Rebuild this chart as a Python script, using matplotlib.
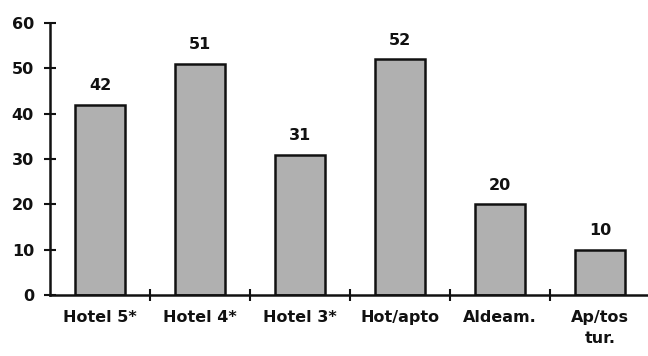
import matplotlib
matplotlib.use("Agg")
import matplotlib.pyplot as plt

categorias = ["Hotel 5*", "Hotel 4*", "Hotel 3*", "Hot/apto", "Aldeam.", "Ap/tos\ntur."]
valores = [42, 51, 31, 52, 20, 10]

plt.rcParams['font.family'] = ['DejaVu Sans']
plt.rcParams['font.weight'] = 'bold'

fig = plt.figure(figsize=(6.48, 3.56), dpi=100)
ax = fig.add_axes([0.0772, 0.171, 0.926, 0.764])

x = range(len(categorias))
ax.bar(x, valores, width=0.5, color='#b0b0b0', edgecolor='#111111', linewidth=1.8)

# rotulos de valor acima das barras
for i, v in zip(x, valores):
    ax.text(i, v + 2.6, str(v), ha='center', va='bottom', fontsize=11.5, fontweight='bold', color='#111111')

ax.set_xlim(-0.5, 5.5)
ax.set_ylim(0, 60)
ax.set_yticks(range(0, 61, 10))

ax.spines['top'].set_visible(False)
ax.spines['right'].set_visible(False)
ax.spines['left'].set_linewidth(1.8)
ax.spines['bottom'].set_linewidth(1.8)
ax.spines['left'].set_color('#111111')
ax.spines['bottom'].set_color('#111111')

# marcas do eixo x entre as categorias
ax.set_xticks([i + 0.5 for i in range(len(categorias) - 1)])
ax.set_xticklabels([])
ax.set_xticks(list(x), minor=True)
ax.set_xticklabels(categorias, minor=True, fontsize=11.5, fontweight='bold', color='#111111',
                   linespacing=1.45)
ax.tick_params(axis='x', which='minor', length=0, pad=11)
ax.tick_params(axis='x', which='major', direction='inout', length=9, width=1.5, color='#111111')
ax.tick_params(axis='y', direction='inout', length=9, width=1.5, color='#111111',
               labelsize=11.5, labelcolor='#111111', pad=7)
for lab in ax.get_yticklabels():
    lab.set_fontweight('bold')

fig.savefig("out.png", dpi=100)
